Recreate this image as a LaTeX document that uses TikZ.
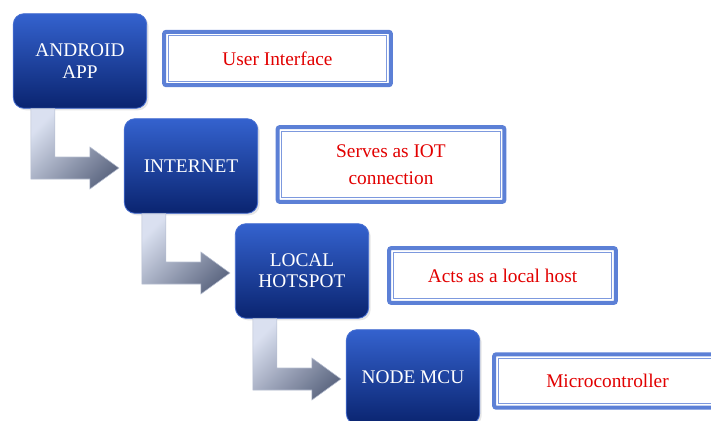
\documentclass[tikz,border=0pt]{standalone}
\usepackage{fontspec}
\setmainfont{Liberation Serif}
\newfontfamily\timesfont{Liberation Serif}
\usetikzlibrary{calc,shadows}

\definecolor{boxtop}{RGB}{52,98,206}
\definecolor{boxbot}{RGB}{10,36,112}
\definecolor{boxedge}{RGB}{70,110,210}
\definecolor{noteblue}{RGB}{92,128,214}
\definecolor{notered}{RGB}{226,0,0}
\definecolor{arrowlight}{RGB}{218,224,240}
\definecolor{arrowdark}{RGB}{96,106,132}

\tikzset{every picture/.style={line width=0.75pt}}
\tikzset{
	stagebox/.style={rectangle, rounded corners=8pt, draw=boxedge, line width=0.6pt,
		top color=boxtop, bottom color=boxbot, text=white, align=center,
		minimum width=100pt, minimum height=71pt, inner sep=2pt,
		font=\timesfont\fontsize{14.5}{16}\selectfont,
		drop shadow={opacity=0.2, shadow xshift=1.5pt, shadow yshift=-1.5pt}},
	notebox/.style={rectangle, draw=noteblue, line width=3pt, rounded corners=1.5pt,
		fill=white, text=notered, align=center,
		minimum width=170pt, minimum height=40pt, inner sep=2pt,
		font=\timesfont\fontsize{14.5}{16}\selectfont},
	noteinner/.style={draw=noteblue!80, line width=0.8pt},
	arrowshade/.style={top color=arrowlight, bottom color=arrowdark, shading angle=45,
		draw=arrowlight!70!arrowdark, line width=0.4pt}
}

\begin{document}
\begin{tikzpicture}[x=0.75pt,y=0.75pt,yscale=-1,xscale=1]
	\useasboundingbox (0,0) rectangle (711,421);
	
	% Stage boxes
	\node[stagebox] (app) at (80,61) {ANDROID\\APP};
	\node[stagebox] (net) at (191,166) {INTERNET};
	\node[stagebox] (hot) at (302,271) {LOCAL\\HOTSPOT};
	\node[stagebox] (mcu) at (413,377) {NODE MCU};
	
	% Note boxes
	\node[notebox] (ui) at (277.5,58.5) {User Interface};
	\node[notebox, minimum height=56pt] (iot) at (391,164.5) {Serves as IOT\\[4pt]connection};
	\node[notebox, minimum height=41pt] (host) at (502.5,275.5) {Acts as a local host};
	\node[notebox] (micro) at (607.5,381) {Microcontroller};
	\foreach \n in {ui,iot,host,micro}
		\draw[noteinner] ($(\n.north west)+(6,6)$) rectangle ($(\n.south east)+(-6,-6)$);
	
	% L-shaped arrows
	\foreach \a/\b in {app/net,net/hot,hot/mcu}{
		\coordinate (\a-l) at ($(\a.south west)+(18,0)$);
		\coordinate (\a-r) at ($(\a.south west)+(42,0)$);
		\coordinate (\b-su) at ($(\b.west)+(-34,-9)$);
		\coordinate (\b-sl) at ($(\b.west)+(-34,13)$);
		\coordinate (\b-hu) at ($(\b.west)+(-34,-19)$);
		\coordinate (\b-hl) at ($(\b.west)+(-34,23)$);
		\coordinate (\b-tip) at ($(\b.west)+(-5,2)$);
		\shade[arrowshade] (\a-l) -- (\a-r) -- (\a-r |- \b-su) -- (\b-su) -- (\b-hu) -- (\b-tip)
			-- (\b-hl) -- (\b-sl) -- (\a-l |- \b-sl) -- cycle;
	}
	
\end{tikzpicture}
\end{document}
